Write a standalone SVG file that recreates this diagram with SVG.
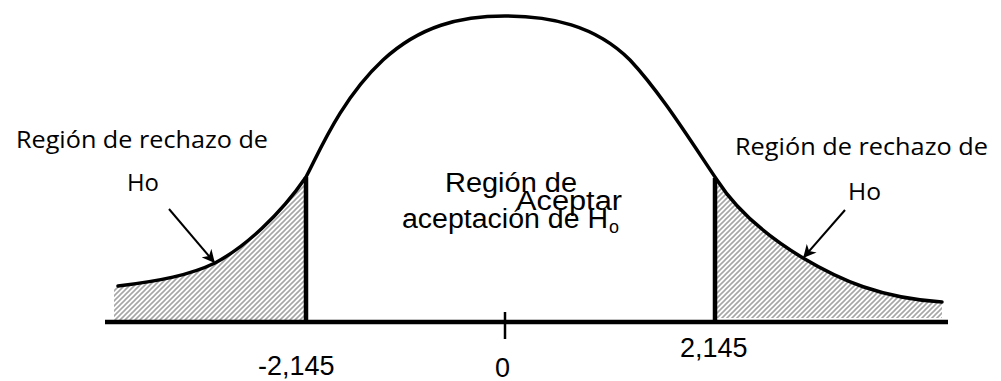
<svg xmlns="http://www.w3.org/2000/svg" width="1001" height="381" viewBox="0 0 1001 381">
<defs>
<pattern id="hatch" patternUnits="userSpaceOnUse" width="5" height="5">
<path d="M0,5 L5,0 M-1,1 L1,-1 M4,6 L6,4" stroke="#a6a6a6" stroke-width="1.6"/>
</pattern>
<marker id="arr" viewBox="0 0 10 10" refX="9" refY="5" markerWidth="6.5" markerHeight="6.5" orient="auto" markerUnits="strokeWidth">
<path d="M0,0 L10,5 L0,10 L3,5 Z" fill="#000"/>
</marker>
<style>
.calib{font-family:"Open Sans","Noto Sans",sans-serif;font-size:23px;fill:#000}
.arial{font-family:"Liberation Sans",Arial,sans-serif;font-size:27px;fill:#000}
.curve{fill:none;stroke:#000;stroke-width:3.5;stroke-linecap:round}
.bar{stroke:#000;stroke-width:4.5}
.conn{stroke:#000;stroke-width:2;fill:none}
</style>
</defs>
<rect width="1001" height="381" fill="#fff"/>
<g id="hatch-left">
<path d="M114,288 L118,287 C160,282 190,275 215,263 C245,247 280,215 306,177 L306,320 L114,320 Z" fill="url(#hatch)"/>
</g>
<g id="hatch-right">
<path d="M715,178 L717,180 C735,208 765,235 803,258 C840,280 880,298 942,302 L942,318 L715,318 Z" fill="url(#hatch)"/>
</g>
<g id="curve">
<path class="curve" d="M118,286 C160,281 190,275 215,263 C245,247 280,215 306,177 C318,155 340,100 383,60 C420,26 460,16 505,16 C550,16 595,25 630,60 C660,92 690,140 717,180 C735,208 765,235 803,258 C840,280 880,298 942,302"/>
</g>
<g id="axis">
<line class="bar" x1="105" y1="322" x2="948" y2="322"/>
<line x1="505" y1="312" x2="505" y2="339" stroke="#000" stroke-width="2.5"/>
</g>
<g id="critical-left">
<line class="bar" x1="306" y1="177" x2="306" y2="320"/>
</g>
<g id="critical-right">
<line class="bar" x1="715" y1="178" x2="715" y2="320"/>
</g>
<g id="connectors">
<line class="conn" x1="169" y1="209" x2="214" y2="262" marker-end="url(#arr)"/>
<line class="conn" x1="845" y1="210" x2="804" y2="257" marker-end="url(#arr)"/>
</g>
<g id="label-left">
<text class="calib" x="16" y="148" textLength="252" lengthAdjust="spacingAndGlyphs">Región de rechazo de</text>
<text class="calib" x="127" y="191" textLength="32" lengthAdjust="spacingAndGlyphs">Ho</text>
</g>
<g id="label-right">
<text class="calib" x="735" y="155" textLength="253" lengthAdjust="spacingAndGlyphs">Región de rechazo de</text>
<text class="calib" x="848" y="200" textLength="33" lengthAdjust="spacingAndGlyphs">Ho</text>
</g>
<g id="label-center">
<text class="arial" x="445" y="192" textLength="132" lengthAdjust="spacingAndGlyphs">Región de</text>
<text class="arial" x="516" y="210" textLength="106" lengthAdjust="spacingAndGlyphs">Aceptar</text>
<text class="arial" x="402" y="228" textLength="206" lengthAdjust="spacingAndGlyphs">aceptación de H</text>
<text class="arial" x="609" y="233" style="font-size:18px">o</text>
</g>
<g id="ticks">
<text class="arial" x="258" y="375">-2,145</text>
<text class="arial" x="495" y="377">0</text>
<text class="arial" x="680" y="357">2,145</text>
</g>
</svg>
